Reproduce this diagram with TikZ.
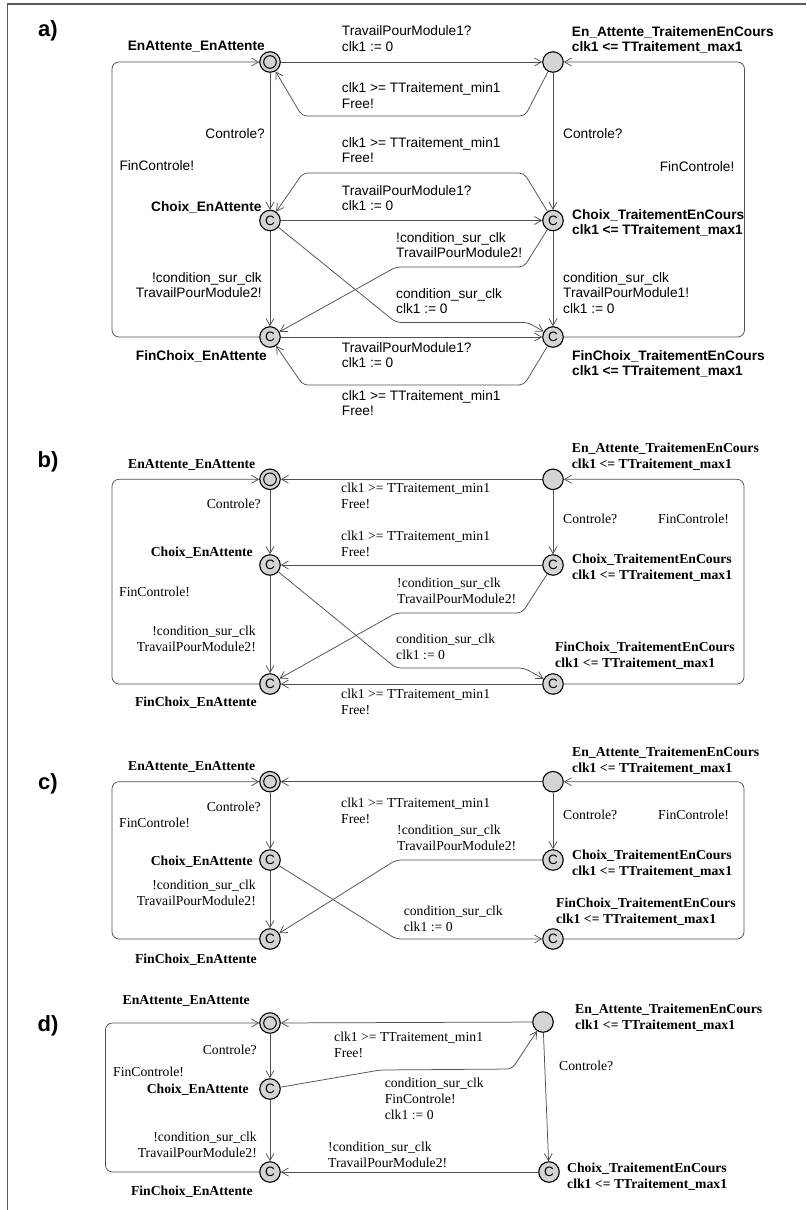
\documentclass[tikz,border=0pt]{standalone}
\usepackage{fontspec}
\usetikzlibrary{arrows.meta}
\newfontfamily\lsans{Liberation Sans}
\newfontfamily\lserif{Liberation Serif}
\definecolor{stfill}{RGB}{212,212,212}
\definecolor{edgecol}{RGB}{80,80,80}
\definecolor{framecol}{RGB}{90,90,90}
\tikzset{
  st/.style={circle,draw=black,line width=1.1pt,fill=stfill,minimum size=20.5pt,inner sep=0pt},
  com/.style={st,font=\lsans\fontsize{13.5}{13.5}\selectfont},
  ed/.style={draw=edgecol,line width=0.75pt,->,rounded corners=5pt},
  loopline/.style={draw=edgecol,line width=0.75pt,->,rounded corners=7pt},
  la/.style={inner sep=0pt,align=left,anchor=north west,font=\lsans\fontsize{13.7}{15.8}\selectfont},
  lar/.style={la,align=right,anchor=north east},
  lab/.style={la,font=\lsans\bfseries\fontsize{13.7}{15.8}\selectfont},
  labr/.style={lab,align=right,anchor=north east},
  lb/.style={inner sep=0pt,align=left,anchor=north west,font=\lserif\fontsize{13.7}{15.7}\selectfont},
  lbr/.style={lb,align=right,anchor=north east},
  lbb/.style={lb,font=\lserif\bfseries\fontsize{13.7}{15.7}\selectfont},
  lbbr/.style={lbb,align=right,anchor=north east},
  paneltag/.style={inner sep=0pt,font=\lsans\bfseries\fontsize{22}{22}\selectfont}
}
\begin{document}
\begin{tikzpicture}[x=1pt,y=-1pt,>={Straight Barb[length=7pt,width=8pt]}]
\useasboundingbox (0,0) rectangle (806,1210);
\fill[white] (0,0) rectangle (806,1210);
\draw[framecol,line width=1.4pt] (7.3,1210) -- (7.3,4) -- (806,4);

% ================= panel a =================
\node[paneltag] (ta) at (48,31) {a)};
\node[st] (aA1) at (270,62) {};
\draw[line width=1pt] (aA1.center) circle[radius=6.3pt];
\node[st] (aA2) at (553,62) {};
\node[com] (aB1) at (270,220.5) {C};
\node[com] (aB2) at (553,220.5) {C};
\node[com] (aC1) at (270,337) {C};
\node[com] (aC2) at (553,337) {C};

\draw[ed] (aA1) -- (aA2);
\draw[ed] (aA2) -- (525,116) -- (302,116) -- (aA1);
\draw[ed] (aA1) -- (aB1);
\draw[ed] (aA2) -- (aB2);
\draw[ed] (aB2) -- (524,173) -- (303,173) -- (aB1);
\draw[ed] (aB1) -- (aB2);
\draw[ed] (aB1) -- (aC1);
\draw[ed] (aB2) -- (524,267) -- (396,267) -- (aC1);
\draw[ed] (aB1) -- (396,322.5) -- (528,322.5) -- (aC2);
\draw[ed] (aB2) -- (aC2);
\draw[ed] (aC1) -- (aC2);
\draw[ed] (aC2) -- (524,385) -- (303,385) -- (aC1);
\draw[loopline] (aC1) -- (112,337) -- (112,62) -- (aA1);
\draw[loopline] (aC2) -- (744.5,337) -- (744.5,62) -- (aA2);

\node[la] (la1) at (341.7,25.7) {TravailPourModule1?\\clk1 := 0};
\node[la] (la2) at (341.7,82.3) {clk1 >= TTraitement\_min1\\Free!};
\node[lar] (la3) at (265,128.3) {Controle?};
\node[la] (la4) at (563,128) {Controle?};
\node[la] (la5) at (341.7,137) {clk1 >= TTraitement\_min1\\Free!};
\node[la] (la6) at (119.3,160.7) {FinControle!};
\node[la] (la7) at (659.6,161) {FinControle!};
\node[la] (la8) at (341.7,185) {TravailPourModule1?\\clk1 := 0};
\node[la] (la9) at (396,232) {!condition\_sur\_clk\\TravailPourModule2!};
\node[lar] (la10) at (262,272) {!condition\_sur\_clk\\TravailPourModule2!};
\node[la] (la11) at (396,288) {condition\_sur\_clk\\clk1 := 0};
\node[la] (la12) at (563,272) {condition\_sur\_clk\\TravailPourModule1!\\clk1 := 0};
\node[la] (la13) at (341.7,342) {TravailPourModule1?\\clk1 := 0};
\node[la] (la14) at (341.7,390) {clk1 >= TTraitement\_min1\\Free!};

\node[labr] (na1) at (265,41) {EnAttente\_EnAttente};
\node[lab] (na2) at (571.7,26) {En\_Attente\_TraitemenEnCours\\clk1 <= TTraitement\_max1};
\node[labr] (na3) at (261.7,201) {Choix\_EnAttente};
\node[lab] (na4) at (572,209) {Choix\_TraitementEnCours\\clk1 <= TTraitement\_max1};
\node[labr] (na5) at (267,350) {FinChoix\_EnAttente};
\node[lab] (na6) at (572,350) {FinChoix\_TraitementEnCours\\clk1 <= TTraitement\_max1};

% ================= panel b =================
\node[paneltag] (tb) at (48,462) {b)};
\node[st] (bA1) at (270,479.3) {};
\draw[line width=1pt] (bA1.center) circle[radius=6.3pt];
\node[st] (bA2) at (553,479.3) {};
\node[com] (bB1) at (270,565) {C};
\node[com] (bB2) at (553,565) {C};
\node[com] (bC1) at (270,684) {C};
\node[com] (bC2) at (553,684) {C};

\draw[ed] (bA2) -- (bA1);
\draw[ed] (bA1) -- (bB1);
\draw[ed] (bA2) -- (bB2);
\draw[ed] (bB2) -- (bB1);
\draw[ed] (bB1) -- (bC1);
\draw[ed] (bB2) -- (522,613) -- (396,613) -- (bC1);
\draw[ed] (bB1) -- (396,668) -- (524,668) -- (bC2);
\draw[ed] (bC2) -- (bC1);
\draw[loopline] (bC1) -- (112,684) -- (112,479.3) -- (bA1);
\draw[loopline] (bC2) -- (744,684) -- (744,479.3) -- (bA2);

\node[lb] (lb1) at (341,483) {clk1 >= TTraitement\_min1\\Free!};
\node[lbr] (lb2) at (261,499) {Controle?};
\node[lb] (lb3) at (563,514) {Controle?};
\node[lb] (lb4) at (658,514) {FinControle!};
\node[lb] (lb5) at (341,531) {clk1 >= TTraitement\_min1\\Free!};
\node[lb] (lb6) at (119,587) {FinControle!};
\node[lbr] (lb7) at (256,626) {!condition\_sur\_clk\\TravailPourModule2!};
\node[lb] (lb8) at (397,578) {!condition\_sur\_clk\\TravailPourModule2!};
\node[lb] (lb9) at (396,634) {condition\_sur\_clk\\clk1 := 0};
\node[lb] (lb10) at (341,689) {clk1 >= TTraitement\_min1\\Free!};

\node[lbbr] (nb1) at (255.5,459) {EnAttente\_EnAttente};
\node[lbb] (nb2) at (571.7,443) {En\_Attente\_TraitemenEnCours\\clk1 <= TTraitement\_max1};
\node[lbbr] (nb3) at (253,547) {Choix\_EnAttente};
\node[lbb] (nb4) at (572,554) {Choix\_TraitementEnCours\\clk1 <= TTraitement\_max1};
\node[lbb] (nb5) at (555,642) {FinChoix\_TraitementEnCours\\clk1 <= TTraitement\_max1};
\node[lbbr] (nb6) at (257,697) {FinChoix\_EnAttente};

% ================= panel c =================
\node[paneltag] (tc) at (48,784) {c)};
\node[st] (cA1) at (270,781.7) {};
\draw[line width=1pt] (cA1.center) circle[radius=6.3pt];
\node[st] (cA2) at (553,781.7) {};
\node[com] (cB1) at (270,860) {C};
\node[com] (cB2) at (553,860) {C};
\node[com] (cC1) at (270,939) {C};
\node[com] (cC2) at (553,939) {C};

\draw[ed] (cA2) -- (cA1);
\draw[ed] (cA1) -- (cB1);
\draw[ed] (cA2) -- (cB2);
\draw[ed] (cB1) -- (cC1);
\draw[ed] (cB2) -- (396,860) -- (cC1);
\draw[ed] (cB1) -- (396,939) -- (cC2);
\draw[loopline] (cC1) -- (112,939) -- (112,781.7) -- (cA1);
\draw[loopline] (cC2) -- (744,939) -- (744,781.7) -- (cA2);

\node[lb] (lc1) at (341,797.7) {clk1 >= TTraitement\_min1\\Free!};
\node[lbr] (lc2) at (261,802) {Controle?};
\node[lb] (lc3) at (119,818) {FinControle!};
\node[lb] (lc4) at (563,810) {Controle?};
\node[lb] (lc5) at (658,810) {FinControle!};
\node[lb] (lc6) at (397,825) {!condition\_sur\_clk\\TravailPourModule2!};
\node[lbr] (lc7) at (256,880) {!condition\_sur\_clk\\TravailPourModule2!};
\node[lb] (lc8) at (403.6,905.7) {condition\_sur\_clk\\clk1 := 0};

\node[lbbr] (nc1) at (255.5,761.7) {EnAttente\_EnAttente};
\node[lbb] (nc2) at (572,746.7) {En\_Attente\_TraitemenEnCours\\clk1 <= TTraitement\_max1};
\node[lbbr] (nc3) at (253,856) {Choix\_EnAttente};
\node[lbb] (nc4) at (572,850) {Choix\_TraitementEnCours\\clk1 <= TTraitement\_max1};
\node[lbb] (nc5) at (556,897.7) {FinChoix\_TraitementEnCours\\clk1 <= TTraitement\_max1};
\node[lbbr] (nc6) at (257,953.3) {FinChoix\_EnAttente};

% ================= panel d =================
\node[paneltag] (td) at (48,1026) {d)};
\node[st] (dA1) at (270,1023) {};
\draw[line width=1pt] (dA1.center) circle[radius=6.3pt];
\node[st] (dA2) at (543,1022) {};
\node[com] (dB1) at (270,1089) {C};
\node[com] (dB2) at (549,1172) {C};
\node[com] (dC1) at (270,1172) {C};

\draw[ed] (dA2) -- (dA1);
\draw[ed] (dA1) -- (dB1);
\draw[ed] (dB1) -- (380,1070) -- (512,1069) -- (dA2);
\draw[ed] (dA2) -- (dB2);
\draw[ed] (dB1) -- (dC1);
\draw[ed] (dB2) -- (dC1);
\draw[loopline] (dC1) -- (105.4,1172) -- (105.4,1023) -- (dA1);

\node[lb] (ld1) at (334,1032) {clk1 >= TTraitement\_min1\\Free!};
\node[lbr] (ld2) at (257,1045) {Controle?};
\node[lb] (ld3) at (113,1067) {FinControle!};
\node[lb] (ld4) at (384.6,1078) {condition\_sur\_clk\\FinControle!\\clk1 := 0};
\node[lb] (ld5) at (559,1061) {Controle?};
\node[lbr] (ld6) at (257,1132) {!condition\_sur\_clk\\TravailPourModule2!};
\node[lb] (ld7) at (328,1142) {!condition\_sur\_clk\\TravailPourModule2!};

\node[lbbr] (nd1) at (250,995) {EnAttente\_EnAttente};
\node[lbb] (nd2) at (575,1004) {En\_Attente\_TraitemenEnCours\\clk1 <= TTraitement\_max1};
\node[lbbr] (nd3) at (249,1084) {Choix\_EnAttente};
\node[lbb] (nd4) at (567,1163) {Choix\_TraitementEnCours\\clk1 <= TTraitement\_max1};
\node[lbbr] (nd5) at (253,1186) {FinChoix\_EnAttente};
\end{tikzpicture}
\end{document}
